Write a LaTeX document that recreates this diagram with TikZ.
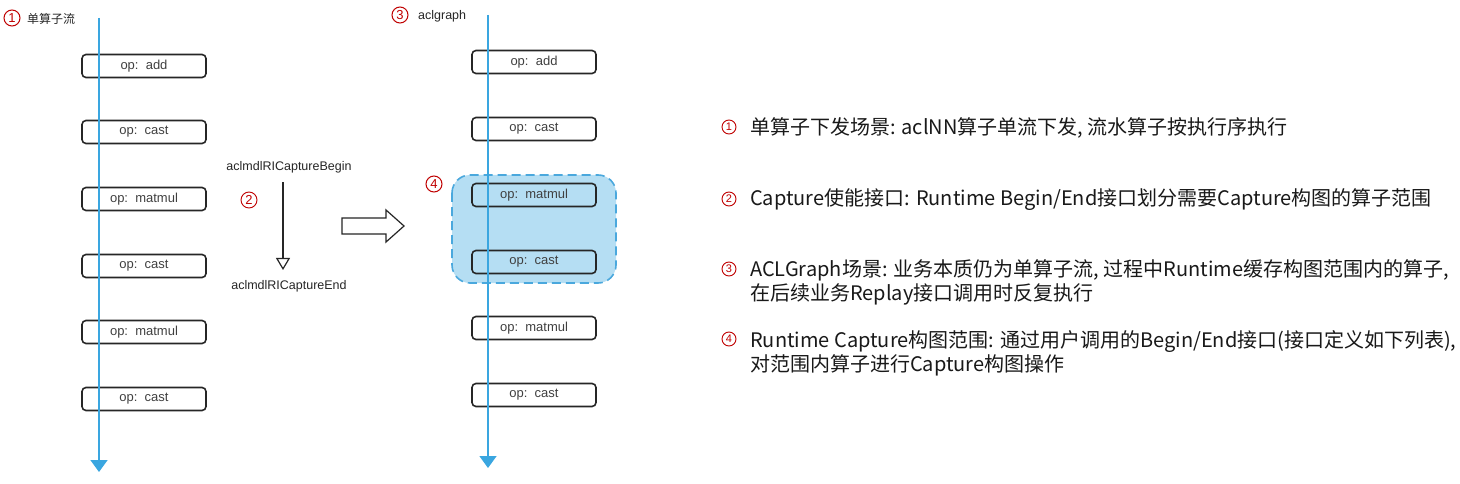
\documentclass[tikz,border=0pt]{standalone}
\usepackage{fontspec}
\setmainfont{Noto Sans CJK SC}
\newfontfamily\labfont{Liberation Sans}
\usetikzlibrary{arrows.meta}
\definecolor{flowblue}{HTML}{3AA6E0}
\definecolor{regfill}{HTML}{B5DEF3}
\definecolor{regdraw}{HTML}{4AA8DD}
\definecolor{numred}{HTML}{C00000}
\begin{document}
\begin{tikzpicture}[x=1pt,y=-1pt,
 opbox/.style={draw=black!85, line width=1.6pt, rounded corners=4pt, minimum width=124pt, minimum height=23pt, inner sep=0pt, font=\labfont\fontsize{13}{15}\selectfont, text=black!75},
 flow/.style={draw=flowblue, line width=1.5pt, -{Triangle[width=17pt,length=12pt]}},
 bignum/.style={circle, draw=numred, line width=1pt, text=numred, inner sep=0pt, minimum size=16pt, font=\labfont\fontsize{13}{13}\selectfont},
 smallnum/.style={circle, draw=numred, line width=0.9pt, text=numred, inner sep=0pt, minimum size=14pt, font=\labfont\fontsize{11}{11}\selectfont},
 lab/.style={font=\labfont\fontsize{12.5}{14}\selectfont, text=black!85, inner sep=0pt},
 cjklab/.style={font=\fontsize{12}{14}\selectfont, text=black!85, inner sep=0pt},
 desc/.style={anchor=west, align=left, inner sep=0pt, font=\fontsize{20}{24}\selectfont, text=black!90},
 region/.style={draw=regdraw, fill=regfill, line width=1.6pt, dash pattern=on 9pt off 5pt, rounded corners=18pt},
 hollow/.style={draw=black!85, line width=1.2pt, fill=white},
]
\useasboundingbox (0,0) rectangle (1460,484);
\fill[white] (0,0) rectangle (1460,484);

% ---- left: single operator stream
\node[bignum] (n1) at (12,18) {1};
\node[cjklab, anchor=west] (t1) at (27,19) {单算子流};
\node[opbox] (a1) at (144,66) {op:\ \ add};
\node[opbox] (a2) at (144,132) {op:\ \ cast};
\node[opbox] (a3) at (144,199) {op:\ \ matmul};
\node[opbox] (a4) at (144,266) {op:\ \ cast};
\node[opbox] (a5) at (144,332) {op:\ \ matmul};
\node[opbox] (a6) at (144,399) {op:\ \ cast};
\coordinate (l1top) at (99,18);
\coordinate (l1bot) at (99,472);
\draw[flow] (l1top) -- (l1bot);

% ---- middle: capture begin/end
\node[lab] (cb) at (289,167) {aclmdlRICaptureBegin};
\node[lab] (ce) at (289,286) {aclmdlRICaptureEnd};
\node[bignum, line width=0.9pt] (n2) at (249,200) {2};
\draw[black!85, line width=1.2pt, -{Triangle[open,width=14pt,length=12pt]}] ([xshift=-6pt,yshift=-9pt]cb.south) -- ([xshift=-6pt,yshift=10pt]ce.north);

% big hollow arrow
\draw[hollow] (342,218) -- (386,218) -- (386,210) -- (404,226) -- (386,242) -- (386,234) -- (342,234) -- cycle;

% ---- right: aclgraph
\node[bignum] (n3) at (400,15) {3};
\node[lab, anchor=west] (t3) at (418,16) {aclgraph};
\draw[region] (452,175) rectangle (616,283);
\node[bignum] (n4) at (434,184) {4};
\node[opbox] (b1) at (534,62) {op:\ \ add};
\node[opbox] (b2) at (534,129) {op:\ \ cast};
\node[opbox] (b3) at (534,195) {op:\ \ matmul};
\node[opbox] (b4) at (534,262) {op:\ \ cast};
\node[opbox] (b5) at (534,328) {op:\ \ matmul};
\node[opbox] (b6) at (534,395) {op:\ \ cast};
\coordinate (l2top) at (488,15);
\coordinate (l2bot) at (488,468);
\draw[flow] (l2top) -- (l2bot);

% ---- descriptions
\node[smallnum] (d1) at (729,127) {1};
\node[desc] (e1) at (750,128) {单算子下发场景: aclNN算子单流下发, 流水算子按执行序执行};
\node[smallnum] (d2) at (729,199) {2};
\node[desc] (e2) at (750,200) {Capture使能接口: Runtime Begin/End接口划分需要Capture构图的算子范围};
\node[smallnum] (d3) at (729,269) {3};
\node[desc] (e3) at (750,282) {ACLGraph场景: 业务本质仍为单算子流, 过程中Runtime缓存构图范围内的算子,\\在后续业务Replay接口调用时反复执行};
\node[smallnum] (d4) at (729,339) {4};
\node[desc] (e4) at (750,353) {Runtime Capture构图范围: 通过用户调用的Begin/End接口(接口定义如下列表),\\对范围内算子进行Capture构图操作};
\end{tikzpicture}
\end{document}
